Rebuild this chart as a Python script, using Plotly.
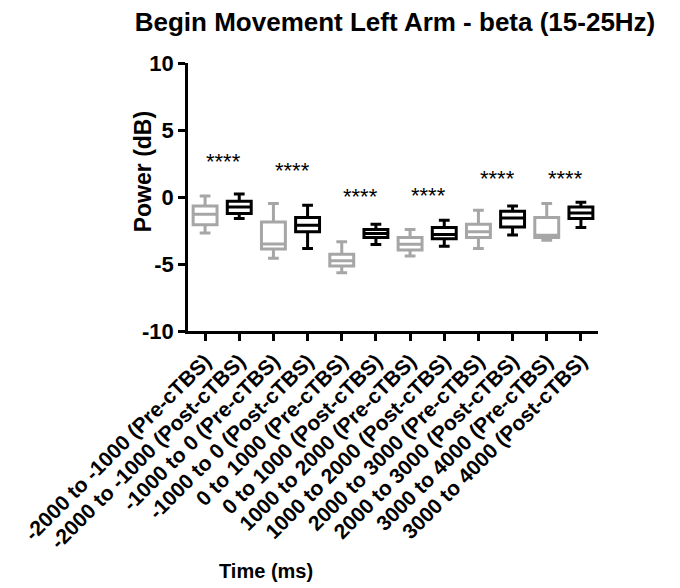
import plotly.graph_objects as go

categories = ["-2000 to -1000 (Pre-cTBS)", "-2000 to -1000 (Post-cTBS)",
              "-1000 to 0 (Pre-cTBS)", "-1000 to 0 (Post-cTBS)",
              "0 to 1000 (Pre-cTBS)", "0 to 1000 (Post-cTBS)",
              "1000 to 2000 (Pre-cTBS)", "1000 to 2000 (Post-cTBS)",
              "2000 to 3000 (Pre-cTBS)", "2000 to 3000 (Post-cTBS)",
              "3000 to 4000 (Pre-cTBS)", "3000 to 4000 (Post-cTBS)"]

pre_cats = categories[0::2]
post_cats = categories[1::2]

pre_upper = [0.07, -0.49, -3.34, -2.43, -0.99, -0.49]
pre_q3 = [-0.67, -1.86, -4.28, -3.02, -2.03, -1.53]
pre_median = [-1.29, -3.5, -4.76, -3.52, -2.6, -2.85]
pre_q1 = [-2.08, -3.88, -5.15, -3.96, -3.02, -3.02]
pre_lower = [-2.68, -4.58, -5.65, -4.41, -3.84, -3.22]

post_upper = [0.22, -0.62, -2.03, -1.73, -0.67, -0.39]
post_q3 = [-0.32, -1.53, -2.43, -2.28, -1.06, -0.74]
post_median = [-0.74, -2.1, -2.72, -2.8, -1.56, -1.19]
post_q1 = [-1.23, -2.6, -3.02, -3.12, -2.23, -1.61]
post_lower = [-1.6, -3.84, -3.54, -3.67, -2.83, -2.28]

star_text = ["****"] * 6
star_y = [2.9, 2.2, 0.25, 0.3, 1.6, 1.6]

y_ticks = [-10, -5, 0, 5, 10]
y_ticktext = ["-10", "-5", "0", "5", "10"]

FONT = "Liberation Sans"
GRAY = "#A6A6A6"

fig = go.Figure()
for cats, up, q3, med, q1, lo, col in [
    (pre_cats, pre_upper, pre_q3, pre_median, pre_q1, pre_lower, GRAY),
    (post_cats, post_upper, post_q3, post_median, post_q1, post_lower, "black"),
]:
    fig.add_trace(go.Box(
        x=cats, q1=q1, median=med, q3=q3, lowerfence=lo, upperfence=up,
        boxpoints=False, width=0.7, whiskerwidth=0.45,
        line=dict(color=col, width=3), fillcolor="white",
        hoverinfo="skip", showlegend=False,
    ))

for i, (t, yv) in enumerate(zip(star_text, star_y)):
    fig.add_annotation(x=2 * i + 0.55, y=yv, xref="x", yref="y", text=t,
                       showarrow=False, font=dict(family=FONT, size=22, color="black"),
                       xanchor="center", yanchor="middle", yshift=-3)

fig.add_annotation(x=(265 - 187) / 411, y=(331 - 571) / 268.3, xref="paper", yref="paper",
                   text="Time (ms)", showarrow=False, xanchor="center", yanchor="middle",
                   font=dict(family=FONT, size=20, color="black", weight="bold"))
fig.add_annotation(x=(142 - 187) / 411, y=(331 - 172) / 268.3, xref="paper", yref="paper",
                   text="Power (dB)", showarrow=False, textangle=-90,
                   xanchor="center", yanchor="middle",
                   font=dict(family=FONT, size=23, color="black", weight="bold"))

fig.update_layout(
    width=680, height=588,
    margin=dict(l=188, r=82, t=63, b=257),
    paper_bgcolor="white", plot_bgcolor="white",
    boxmode="overlay",
    title=dict(text="Begin Movement Left Arm - beta (15-25Hz)", x=395 / 680, xanchor="center",
               y=1 - 22 / 588, yanchor="middle", yref="container",
               font=dict(family=FONT, size=26, color="black", weight="bold")),
    xaxis=dict(type="category", categoryorder="array", categoryarray=categories,
               range=[-0.5, 11.5], showline=True, linecolor="black", linewidth=2.5,
               ticks="outside", ticklen=7, tickwidth=2.5, tickcolor="black",
               tickangle=-45, showgrid=False, zeroline=False,
               tickfont=dict(family=FONT, size=21, color="black", weight="bold")),
    yaxis=dict(range=[-10, 10], tickvals=y_ticks, ticktext=y_ticktext,
               showline=True, linecolor="black", linewidth=2.5,
               ticks="outside", ticklen=7, tickwidth=2.5, tickcolor="black",
               showgrid=False, zeroline=False,
               tickfont=dict(family=FONT, size=22, color="black", weight="bold")),
)

fig.write_html("out.html")
